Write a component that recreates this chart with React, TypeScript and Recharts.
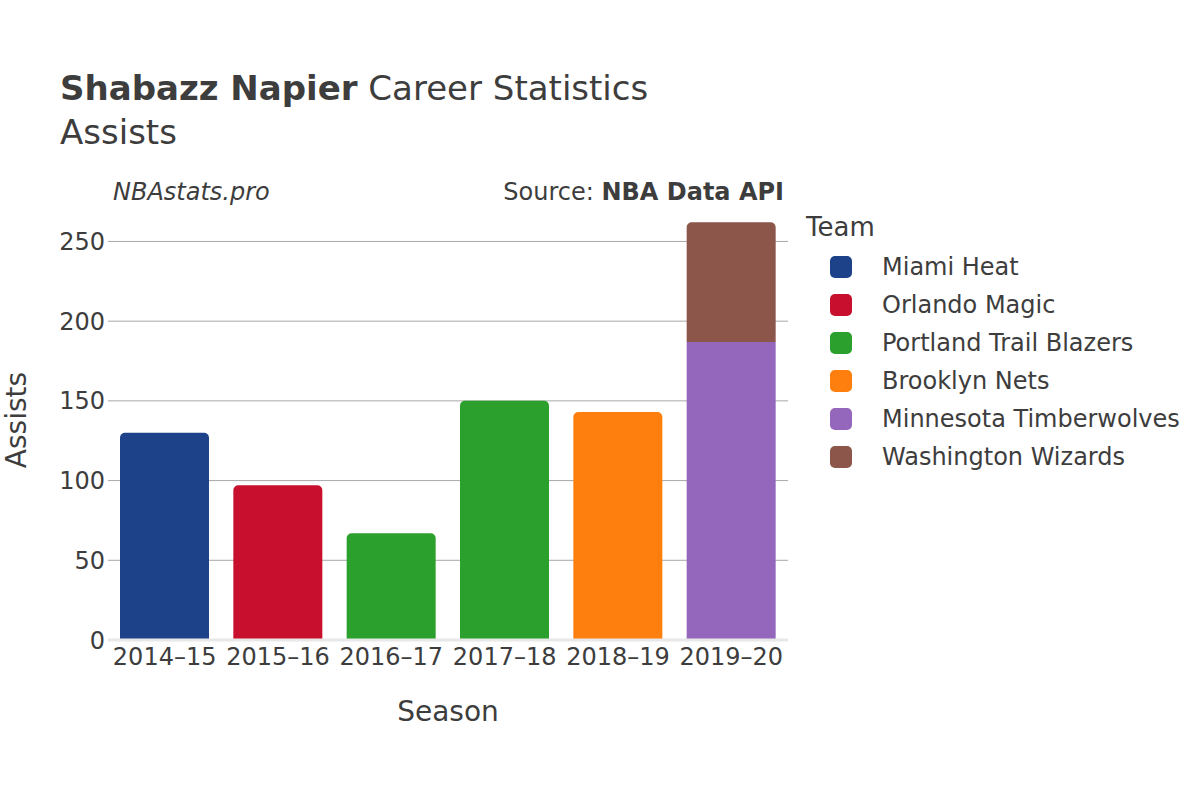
import React from "react";
import {
  BarChart,
  Bar,
  XAxis,
  YAxis,
  CartesianGrid,
  ReferenceLine,
} from "recharts";

const seasons = ["2014–15", "2015–16", "2016–17", "2017–18", "2018–19", "2019–20"];

const teams = [
  "Miami Heat",
  "Orlando Magic",
  "Portland Trail Blazers",
  "Brooklyn Nets",
  "Minnesota Timberwolves",
  "Washington Wizards",
];

const teamColors = ["#1d428a", "#c8102e", "#2ca02c", "#ff7f0e", "#9467bd", "#8c564b"];

// assists per season, by team (null = did not play there)
const miamiHeat = [130, null, null, null, null, null];
const orlandoMagic = [null, 97, null, null, null, null];
const portlandTrailBlazers = [null, null, 67, 150, null, null];
const brooklynNets = [null, null, null, null, 143, null];
const minnesotaTimberwolves = [null, null, null, null, null, 187];
const washingtonWizards = [null, null, null, null, null, 75];

const yTicks = [0, 50, 100, 150, 200, 250];
const gridValues = [50, 100, 150, 200, 250];

const teamValues = [
  miamiHeat,
  orlandoMagic,
  portlandTrailBlazers,
  brooklynNets,
  minnesotaTimberwolves,
  washingtonWizards,
];

const data = seasons.map((season, i) => {
  const row: Record<string, string | number | null> = { season };
  teams.forEach((team, t) => {
    row[team] = teamValues[t][i];
  });
  return row;
});

const FONT = '"DejaVu Sans", sans-serif';
const TEXT = "#3d3d3d";

function TeamLegend() {
  return (
    <div style={{ position: "absolute", left: 806, top: 214, width: 390, height: 260 }}>
      <div style={{ position: "absolute", left: 0, top: 0, fontSize: 26, lineHeight: "26px" }}>
        Team
      </div>
      {teams.map((team, i) => (
        <div
          key={team}
          style={{ position: "absolute", left: 0, top: 53 + i * 38 - 11, height: 22, width: 390 }}
        >
          <div
            style={{
              position: "absolute",
              left: 24,
              top: 0,
              width: 22,
              height: 22,
              borderRadius: 5,
              background: teamColors[i],
            }}
          />
          <div
            style={{
              position: "absolute",
              left: 76,
              top: -1,
              fontSize: 24,
              lineHeight: "24px",
              whiteSpace: "nowrap",
            }}
          >
            {team}
          </div>
        </div>
      ))}
    </div>
  );
}

export default function App() {
  return (
    <div
      style={{
        position: "absolute",
        left: 0,
        top: 0,
        width: 1200,
        height: 800,
        background: "#fff",
        fontFamily: FONT,
        color: TEXT,
      }}
    >
      <BarChart
        width={1200}
        height={800}
        data={data}
        margin={{ top: 200, right: 412, bottom: 120, left: 8 }}
        style={{ fontFamily: FONT }}
      >
        <CartesianGrid
          vertical={false}
          horizontalValues={gridValues}
          stroke="#a8a8a8"
          strokeWidth={1}
        />
        <XAxis
          dataKey="season"
          height={40}
          axisLine={false}
          tickLine={false}
          tickSize={0}
          tickMargin={8}
          interval={0}
          tick={{ fill: TEXT, fontSize: 24 }}
        />
        <YAxis
          width={100}
          domain={[0, 276]}
          ticks={yTicks}
          axisLine={false}
          tickLine={false}
          tickSize={0}
          tickMargin={3}
          tick={{ fill: TEXT, fontSize: 24 }}
        />
        <ReferenceLine y={0} stroke="#e8e8e8" strokeWidth={3} />
        {teams.map((team, t) => (
          <Bar
            key={team}
            dataKey={team}
            name={team}
            stackId="a"
            barSize={89}
            fill={teamColors[t]}
            radius={team === "Minnesota Timberwolves" ? 0 : [5, 5, 0, 0]}
            isAnimationActive={false}
          />
        ))}
      </BarChart>

      <TeamLegend />

      <div style={{ position: "absolute", left: 60, top: 71, fontSize: 34, lineHeight: "34px", whiteSpace: "nowrap" }}>
        <span style={{ fontWeight: "bold" }}>Shabazz Napier</span> Career Statistics
      </div>
      <div style={{ position: "absolute", left: 60, top: 115, fontSize: 34, lineHeight: "34px" }}>
        Assists
      </div>
      <div
        style={{
          position: "absolute",
          left: 113,
          top: 180,
          fontSize: 24,
          lineHeight: "24px",
          fontStyle: "italic",
        }}
      >
        NBAstats.pro
      </div>
      <div
        style={{
          position: "absolute",
          right: 1200 - 784,
          top: 180,
          fontSize: 24,
          lineHeight: "24px",
          whiteSpace: "nowrap",
        }}
      >
        Source: <span style={{ fontWeight: "bold" }}>NBA Data API</span>
      </div>
      <div
        style={{
          position: "absolute",
          left: 448,
          top: 712,
          transform: "translate(-50%, -50%)",
          fontSize: 28,
          lineHeight: "28px",
          whiteSpace: "nowrap",
        }}
      >
        Season
      </div>
      <div
        style={{
          position: "absolute",
          left: 17,
          top: 420,
          transform: "translate(-50%, -50%) rotate(-90deg)",
          fontSize: 28,
          lineHeight: "28px",
          whiteSpace: "nowrap",
        }}
      >
        Assists
      </div>
    </div>
  );
}
